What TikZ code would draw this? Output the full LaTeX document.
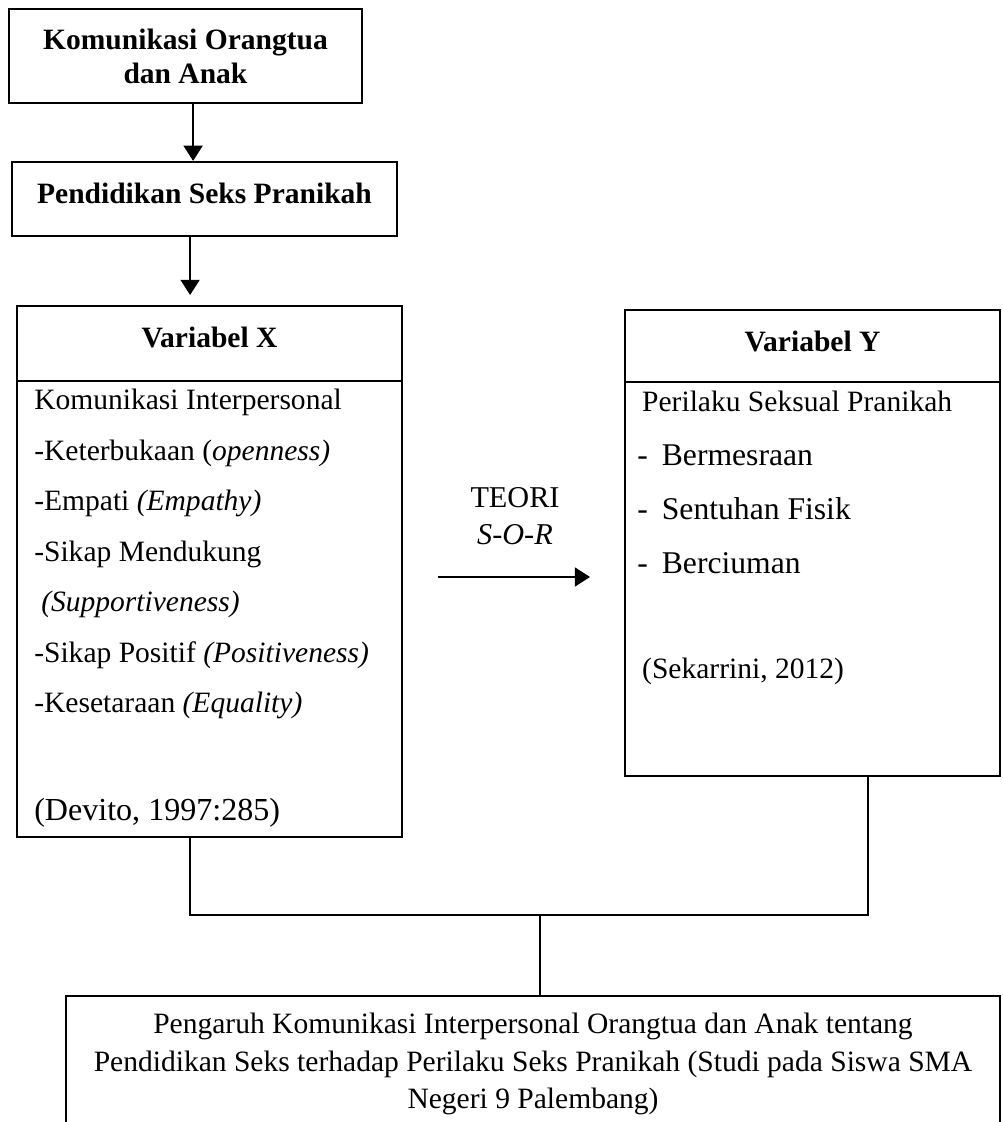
\documentclass[tikz,border=0pt]{standalone}
\usepackage{fontspec}
\setmainfont{Liberation Serif}
\usetikzlibrary{positioning,arrows.meta}

\begin{document}
\begin{tikzpicture}[
    x=0.025cm, y=-0.025cm,
    box/.style={
        rectangle,
        draw,
        line width=1.6pt,
        align=center,
        inner sep=0pt,
        font=\bfseries\fontsize{21}{24.2}\selectfont
    },
    varbox/.style={
        rectangle,
        draw,
        line width=1.1pt,
        inner sep=0pt,
        outer sep=0pt,
        font=\bfseries\fontsize{21}{24.2}\selectfont
    },
    list/.style={anchor=north west, align=left, inner sep=0pt,
        font=\fontsize{21}{35.9}\selectfont},
    arrow/.style={
        -{Triangle[length=3.8mm, width=4.8mm]},
        line width=0.9pt
    },
    link/.style={line width=0.9pt}
]

\useasboundingbox (0,0) rectangle (1002,1122);
\clip (0,0) rectangle (1002,1122);

%% ===== TOP BOXES =====
\node[box, minimum width=8.825cm, minimum height=2.35cm, text depth=-4pt] (kom) at (185.5,56)
  {Komunikasi Orangtua\\dan Anak};

\node[box, minimum width=9.625cm, minimum height=1.85cm, text depth=8.5pt] (pend) at (204.5,199)
  {Pendidikan Seks Pranikah};

\draw[arrow] ([xshift=0.19cm]kom.south) coordinate (a1) -- (a1 |- pend.north);

%% ===== VARIABEL X =====
\node[varbox, minimum width=9.625cm, minimum height=1.875cm, text depth=8.5pt] (xhead) at (209.5,343.5)
  {Variabel X};
\node[varbox, minimum width=9.625cm, minimum height=11.4cm, below=0pt of xhead] (xbody) {};

\node[list] (xlist) at (34,389) {
  Komunikasi Interpersonal\\
  -Keterbukaan (\textit{openness)}\\
  -Empati \textit{(Empathy)}\\
  -Sikap Mendukung\\
  \hspace{5pt}\textit{(Supportiveness)}\\
  -Sikap Positif \textit{(Positiveness)}\\
  -Kesetaraan \textit{(Equality)}\\[40.9pt]
  {\fontsize{22.8}{35.9}\selectfont (Devito, 1997:285)}};

\draw[arrow, shorten >=2.75mm] ([xshift=-0.36cm]pend.south) coordinate (a2) -- (a2 |- xhead.north);

%% ===== VARIABEL Y =====
\node[varbox, minimum width=9.375cm, minimum height=1.8cm, text depth=7pt] (yhead) at (812.5,346)
  {Variabel Y};
\node[varbox, minimum width=9.375cm, minimum height=9.85cm, below=0pt of yhead] (ybody) {};

\node[list, font=\fontsize{22.5}{38.4}\selectfont] (ylist) at (637,391) {
  {\fontsize{21}{38.4}\selectfont\hspace{3.5pt}Perilaku Seksual Pranikah}\\
  -\hspace{10pt}Bermesraan\\
  -\hspace{10pt}Sentuhan Fisik\\
  -\hspace{10pt}Berciuman\\[36pt]
  {\fontsize{21}{38.4}\selectfont\hspace{3.5pt}(Sekarrini, 2012)}};

%% ===== TEORI S-O-R =====
\node[align=center, inner sep=0pt, font=\fontsize{21.5}{26.3}\selectfont] (teori) at (515,516)
  {TEORI\\\textit{S-O-R}};
\coordinate (sorA) at (438,577);
\coordinate (sorB) at (590,577);
\draw[arrow] (sorA) -- (sorB);

%% ===== RESULT =====
\node[box, anchor=north, font=\fontsize{21}{26.7}\selectfont, inner xsep=0pt, inner ysep=12pt,
      minimum width=23.35cm] (result) at (533,995) {
  Pengaruh Komunikasi Interpersonal Orangtua dan Anak tentang\\
  Pendidikan Seks terhadap Perilaku Seks Pranikah (Studi pada Siswa SMA\\
  Negeri 9 Palembang)};

\coordinate (join) at (540,915);
\draw[link] ([xshift=-0.49cm]xbody.south) |- (join) -| ([xshift=1.39cm]ybody.south);
\draw[link] (join) -- (join |- result.north);

\end{tikzpicture}
\end{document}
